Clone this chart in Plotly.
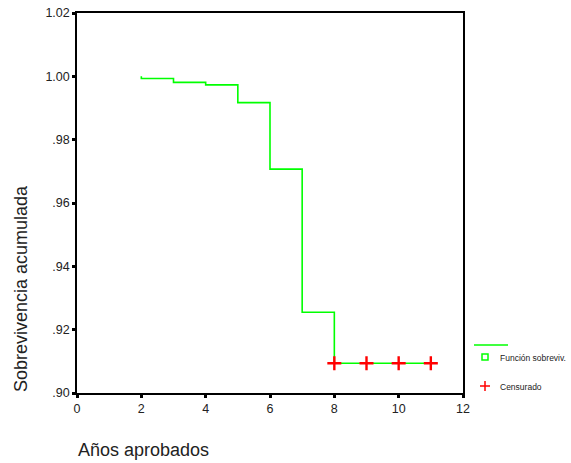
import plotly.graph_objects as go

# Data
event_times = [0, 2, 3, 4, 5, 6, 7, 8, 11]
survival = [1.0, 0.9993, 0.9981, 0.9973, 0.9917, 0.9707, 0.9255, 0.9094, 0.9094]
censored_times = [8, 9, 10, 11]
censored_surv = [0.9094, 0.9094, 0.9094, 0.9094]
y_tickvals = [0.90, 0.92, 0.94, 0.96, 0.98, 1.00, 1.02]
y_ticktext = [".90", ".92", ".94", ".96", ".98", "1.00", "1.02"]
x_tickvals = [0, 2, 4, 6, 8, 10, 12]

GREEN = "#00ff00"
RED = "#ff0000"

fig = go.Figure()
# survival step line (starts at first event time 2)
fig.add_trace(go.Scatter(
    x=[2] + event_times[1:], y=[1.0] + survival[1:],
    mode="lines", line=dict(color=GREEN, width=1.6, shape="hv"),
    hoverinfo="skip", showlegend=False))
fig.add_trace(go.Scatter(
    x=censored_times, y=censored_surv, mode="markers",
    marker=dict(symbol="cross-thin", size=10, line=dict(color=RED, width=2.4)),
    showlegend=False))

L, R, T, B = 77, 463, 13, 393
W, H = 571, 463
def px(x):
    return (x - L) / (R - L)
def py(y):
    return (B - y) / (B - T)

shapes = [
    dict(type="line", xref="paper", yref="paper", x0=px(474), x1=px(508), y0=py(345), y1=py(345),
         line=dict(color=GREEN, width=1.5)),
    dict(type="rect", xref="paper", yref="paper", x0=px(482), x1=px(488), y0=py(360), y1=py(354),
         line=dict(color=GREEN, width=1.5)),
    dict(type="line", xref="paper", yref="paper", x0=px(480), x1=px(490), y0=py(386), y1=py(386),
         line=dict(color=RED, width=1.5)),
    dict(type="line", xref="paper", yref="paper", x0=px(485), x1=px(485), y0=py(381), y1=py(391),
         line=dict(color=RED, width=1.5)),
]
annotations = [
    dict(text="Función sobreviv.", xref="paper", yref="paper", x=px(498), y=py(358),
         xanchor="left", yanchor="middle", showarrow=False,
         font=dict(size=8.5, color="#222")),
    dict(text="Censurado", xref="paper", yref="paper", x=px(498), y=py(387),
         xanchor="left", yanchor="middle", showarrow=False,
         font=dict(size=8.5, color="#222")),
    dict(text="Años aprobados", xref="paper", yref="paper", x=px(76), y=py(450),
         xanchor="left", yanchor="middle", showarrow=False,
         font=dict(size=18, color="#222")),
    dict(text="Sobrevivencia acumulada", xref="paper", yref="paper", x=px(21), y=py(289),
         xanchor="center", yanchor="middle", showarrow=False, textangle=-90,
         font=dict(size=18, color="#222")),
]

fig.update_layout(
    width=W, height=H,
    margin=dict(l=L, r=W - R, t=T, b=H - B, pad=0, autoexpand=False),
    paper_bgcolor="white", plot_bgcolor="white",
    font=dict(family="Liberation Sans, Arial, sans-serif", color="#222"),
    shapes=shapes, annotations=annotations,
    xaxis=dict(range=[0, 12], tickvals=x_tickvals, showgrid=False, zeroline=False,
               showline=True, linecolor="black", linewidth=1.5, mirror=True,
               ticks="outside", ticklen=3, tickwidth=3, tickcolor="black",
               tickfont=dict(size=12.5), automargin=False),
    yaxis=dict(range=[0.90, 1.02], tickvals=y_tickvals, ticktext=y_ticktext,
               showgrid=False, zeroline=False,
               showline=True, linecolor="black", linewidth=1.5, mirror=True,
               ticks="outside", ticklen=3, tickwidth=3, tickcolor="black",
               tickfont=dict(size=12.5), automargin=False),
)

fig.write_html("out.html", config={"displayModeBar": False},
               post_script="document.body.style.margin='0';document.body.style.overflow='hidden';")
